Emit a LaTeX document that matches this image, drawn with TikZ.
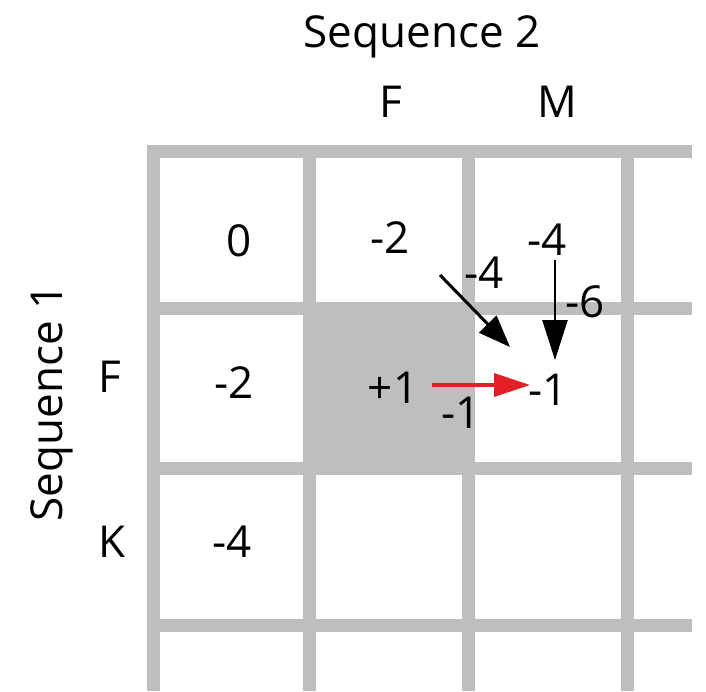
\documentclass[tikz,border=0pt]{standalone}
\usepackage{fontspec}
\setmainfont{Open Sans}
\usetikzlibrary{arrows.meta, positioning}
\definecolor{GridGray}{RGB}{190,190,190}
\definecolor{PathRed}{RGB}{228,30,38}

\begin{document}
\begin{tikzpicture}[x=1pt, y=-1pt,
	lbl/.style={font=\fontsize{44}{50}\selectfont, inner sep=0pt, anchor=base},
	val/.style={font=\fontsize{44}{50}\selectfont, inner sep=0pt},
	gridline/.style={GridGray, line width=13pt},
	arr/.style={line width=3pt, -{Triangle[length=32pt, width=24pt]}}]
	\useasboundingbox (0,0) rectangle (706,691);
	% shaded cell
	\fill[GridGray] (309,308) rectangle (468,468);
	% grid
	\foreach \gx in {153,309,468,627}
		\draw[gridline] (\gx,145) -- (\gx,691);
	\foreach \gy in {151,308,468,625}
		\draw[gridline] (147,\gy) -- (692,\gy);
	% headers
	\node[lbl] (seqtwo) at (422,47) {Sequence 2};
	\node[lbl] (colF) at (391,117) {F};
	\node[lbl] (colM) at (557,117) {M};
	\node[lbl, rotate=90] (seqone) at (62,403) {Sequence 1};
	\node[lbl] (rowF) at (110,392) {F};
	\node[lbl] (rowK) at (112,557) {K};
	% scores
	\foreach \nm/\vx/\vy/\v in {
		aa/239/241/0, ab/390/238/-2, ac/547/240/-4,
		ba/234/383/-2, bb/393/388/+1, bc/548/390/-1,
		ca/232/542/-4}
		\node[val] (\nm) at (\vx,\vy) {\v};
	% arrow labels
	\node[val] (wdiag) at (484,273) {-4};
	\node[val] (wup) at (585,302) {-6};
	\node[val] (wleft) at (461,413) {-1};
	% arrows
	\coordinate (diagS) at (440,275);
	\coordinate (diagE) at (510,347);
	\coordinate (upS) at (555,260);
	\coordinate (upE) at (555,360);
	\coordinate (leftS) at (432,385);
	\coordinate (leftE) at (530,385);
	\draw[arr] (diagS) -- (diagE);
	\draw[arr, line width=2.7pt, -{Triangle[length=40pt, width=25pt]}] (upS) -- (upE);
	\draw[arr, PathRed, line width=3.5pt, -{Triangle[length=36pt, width=23pt]}] (leftS) -- (leftE);
\end{tikzpicture}
\end{document}
